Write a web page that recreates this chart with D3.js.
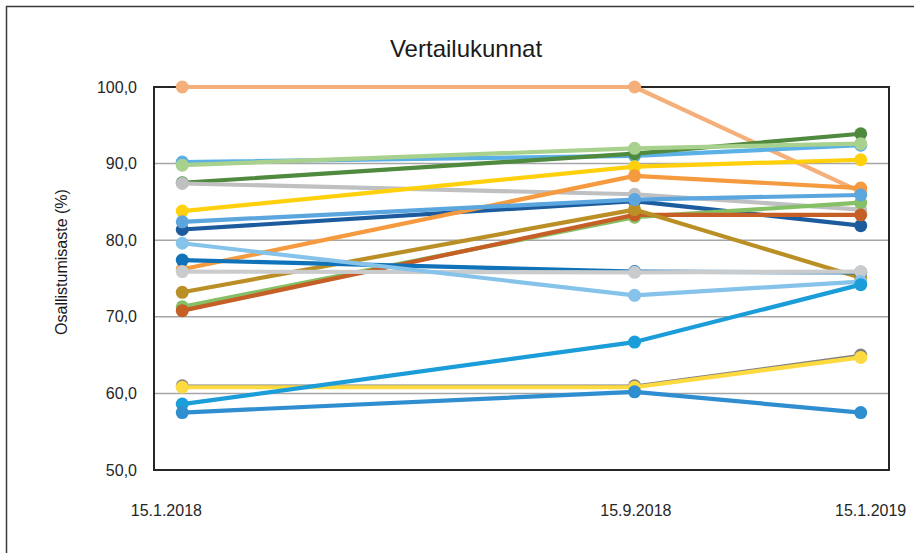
<!DOCTYPE html>
<html><head><meta charset="utf-8">
<script src="https://cdn.jsdelivr.net/npm/d3@7"></script>
<style>body{margin:0;background:#fff}svg{display:block;font-family:"Liberation Sans",Arial,sans-serif}</style>
</head><body><svg id="c" width="914" height="553"></svg>
<script>
const dates = ["15.1.2018", "15.9.2018", "15.1.2019"];
const yTicks = [50, 60, 70, 80, 90, 100];
// series listed in drawing order (later = on top)
const seriesNames = ["peach","lightblue","darkgreen","lightgreen","gray1","yellow","darkblue","orange","green","rust","golden","blue2","gray2","skyblue","midblue","gray3","yellow2","blue3","blue4"];
const peach      = [100.0, 100.0, 86.3];
const lightblue  = [90.2, 91.0, 92.4];
const darkgreen  = [87.5, 91.3, 93.9];
const lightgreen = [89.8, 92.0, 92.6];
const gray1      = [87.4, 86.0, 84.0];
const yellow     = [83.8, 89.6, 90.5];
const darkblue   = [81.4, 85.1, 81.9];
const orange     = [76.2, 88.4, 86.8];
const green      = [71.3, 83.0, 84.9];
const rust       = [70.8, 83.3, 83.3];
const golden     = [73.2, 84.0, 75.1];
const blue2      = [77.4, 75.9, 75.8];
const gray2      = [75.9, 75.8, 75.9];
const skyblue    = [79.6, 72.8, 74.6];
const midblue    = [82.4, 85.3, 85.9];
const gray3      = [61.0, 61.0, 65.0];
const yellow2    = [60.8, 60.8, 64.7];
const blue3      = [58.6, 66.7, 74.2];
const blue4      = [57.5, 60.2, 57.5];
const seriesValues = [peach,lightblue,darkgreen,lightgreen,gray1,yellow,darkblue,orange,green,rust,golden,blue2,gray2,skyblue,midblue,gray3,yellow2,blue3,blue4];
const colors = ["#F4AF7A","#5BB0E6","#4F8A3E","#A9D18E","#BFC0C2","#FFD00C","#1C5C9E","#F59A3E","#86C066","#C55F26","#BA9026","#1072B8","#C9CBCD","#86C3EA","#5BA6DE","#808080","#FDDA3F","#1A9DD9","#2F8ECF"];
const title = "Vertailukunnat";
const yLabel = "Osallistumisaste (%)";

const svg = d3.select("#c");
const W = 914, H = 553;
const m = {l:154, r:889, t:87, b:470};

// month slots Jan 2018 .. Jan 2019
const parse = d3.timeParse("%d.%m.%Y");
const fmtM = d3.timeFormat("%Y-%m");
const months = d3.timeMonths(new Date(2018,0,1), new Date(2019,1,1)).map(fmtM);
const mkey = s => fmtM(parse(s));
const xb = d3.scaleBand().domain(months).range([m.l, m.r]).paddingInner(0).paddingOuter(0);
const x = s => xb(mkey(s)) + xb.bandwidth()/2;
const xLab = d3.scaleBand().domain(months).range([137, 900]);
const y = d3.scaleLinear().domain([50,100]).range([m.b, m.t]);

// outer frame
svg.append("rect").attr("x",6.5).attr("y",6.5).attr("width",W+20).attr("height",H+20)
  .attr("fill","#fff").attr("stroke","#3a3a3a").attr("stroke-width",1.5);

// title
svg.append("text").attr("x",466).attr("y",57).attr("text-anchor","middle")
  .attr("font-size",24).attr("fill","#1a1a1a").text(title);

// gridlines
svg.append("g").selectAll("line").data(yTicks.filter(v=>v>50 && v<100)).join("line")
  .attr("x1",m.l).attr("x2",m.r).attr("y1",d=>y(d)).attr("y2",d=>y(d))
  .attr("stroke","#A6A6A6").attr("stroke-width",1.5);

// y axis
const yAxis = d3.axisLeft(y).tickValues(yTicks).tickSize(0).tickPadding(17)
  .tickFormat(d => d3.format(".1f")(d).replace(".", ","));
const gy = svg.append("g").attr("transform",`translate(${m.l},0)`).call(yAxis);
gy.select(".domain").remove();
gy.selectAll("text").attr("font-size",16).attr("fill","#262626").attr("font-family","Liberation Sans, Arial, sans-serif");

// x axis labels
const gx = svg.append("g");
gx.selectAll("text").data(dates).join("text")
  .attr("x", d => xLab(mkey(d)) + xLab.bandwidth()/2).attr("y",516)
  .attr("text-anchor","middle").attr("font-size",16).attr("fill","#262626").text(d=>d);

// y label
svg.append("text").attr("transform","translate(67,262) rotate(-90)").attr("text-anchor","middle")
  .attr("font-size",16).attr("fill","#1a1a1a").text(yLabel);

// plot frame
svg.append("rect").attr("x",m.l).attr("y",m.t).attr("width",m.r-m.l).attr("height",m.b-m.t)
  .attr("fill","none").attr("stroke","#262626").attr("stroke-width",2);

// series
const line = d3.line().x((v,i)=>x(dates[i])).y(v=>y(v));
const gs = svg.append("g");
seriesValues.forEach((vals, si) => {
  const g = gs.append("g").attr("class","s-"+seriesNames[si]);
  g.append("path").datum(vals).attr("d",line).attr("fill","none")
    .attr("stroke",colors[si]).attr("stroke-width", seriesNames[si]==="gray3"?2.5:4.2)
    .attr("stroke-linejoin","round");
  g.selectAll("circle").data(vals).join("circle")
    .attr("cx",(v,i)=>x(dates[i])).attr("cy",v=>y(v)).attr("r",6.5).attr("fill",colors[si]);
});
</script></body></html>
